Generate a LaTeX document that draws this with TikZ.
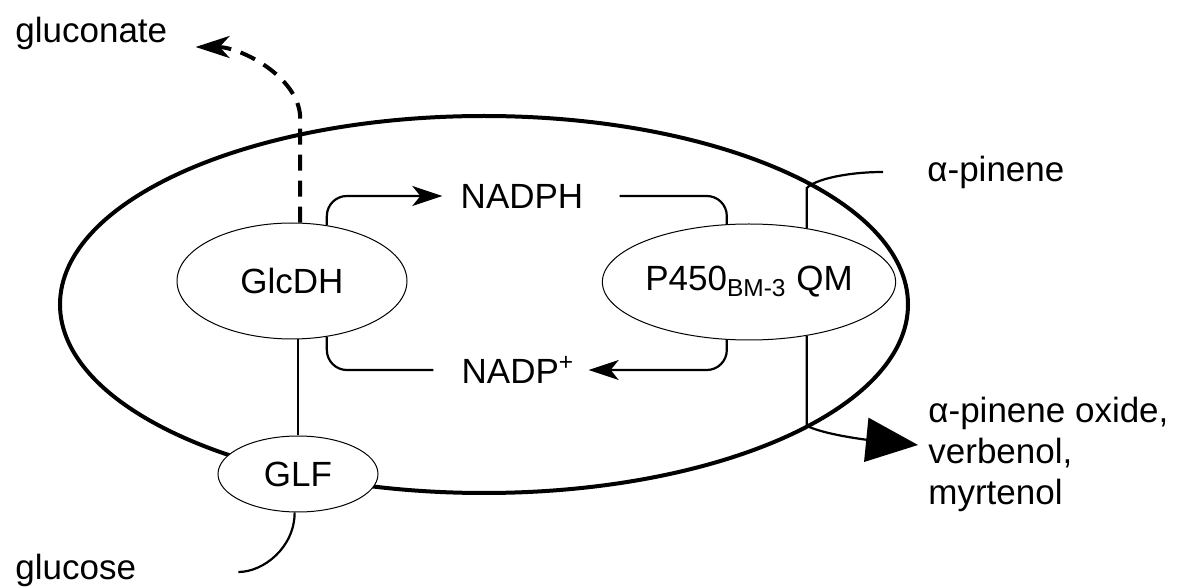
\documentclass[tikz,border=0pt]{standalone}
\usepackage{fontspec}
\setmainfont{Liberation Sans}
\usetikzlibrary{shapes.geometric,arrows.meta,calc}
\tikzset{
  enz/.style={draw,ellipse,line width=0.5pt,inner sep=0pt,fill=white},
  lbl/.style={inner sep=0pt},
  conn/.style={line width=1.1pt,rounded corners=10pt},
  cofarrow/.style={-{Stealth[length=15pt,width=10pt,inset=4pt]}},
}
\begin{document}
\begin{tikzpicture}[x=0.5pt,y=-0.5pt,font=\fontsize{17.5}{20.5}\selectfont]
	\useasboundingbox (0,0) rectangle (1191,588);

	% Клетка
	\node[draw,ellipse,line width=2pt,inner sep=0pt,minimum width=424pt,minimum height=188.5pt] (cell) at (484,304.5) {};

	% Ферменты
	\node[enz,minimum width=115pt,minimum height=58pt] (glcdh) at (292,281) {GlcDH};
	\node[enz,minimum width=129pt,minimum height=58pt] (p450) at (749,282) {P450\textsubscript{BM-3} QM};
	\node[enz,minimum width=80pt,minimum height=38pt] (glf) at (298,474) {GLF};

	% Кофакторы
	\node[lbl] (nadph) at (522,196) {NADPH};
	\node[lbl] (nadp) at (518,370) {NADP\textsuperscript{+}};

	% Вещества снаружи
	\node[lbl,anchor=west] (gluconate) at (15,33) {gluconate};
	\node[lbl,anchor=west] (glucose) at (15,570) {glucose};
	\node[lbl,anchor=west] (pinene) at (927,172) {α-pinene};
	\node[lbl,anchor=west,align=left] (products) at (928,454) {α-pinene oxide,\\verbenol,\\myrtenol};

	\coordinate (gluout) at ($(gluconate.east)+(28,14)$);
	\coordinate (glcin) at ($(glucose.east)+(102,2)$);
	\coordinate (pinin) at ($(pinene.west)+(-44,0)$);
	\coordinate (prodtip) at ($(products.west)+(-10,-9)$);

	% Цикл NADPH / NADP+
	\draw[conn,cofarrow,shorten >=9pt] (glcdh.58) |- (nadph.west);
	\draw[conn,shorten <=18pt] (nadph.east) -| (p450.111);
	\draw[conn,cofarrow,shorten >=7pt] (p450.-111) |- (nadp.east);
	\draw[conn,shorten >=14pt] (glcdh.-58) |- (nadp.west);

	% Глюконат
	\draw[line width=2pt,dash pattern=on 8pt off 5pt,-{Stealth[length=17pt,width=11pt,inset=5pt]}] (glcdh.82) -- ++(0,-106) .. controls +(-2,-40) and +(45,0) .. (gluout);

	% Глюкоза
	\draw[line width=1.1pt] (glcdh.south -| glf.north) -- (glf.north);
	\draw[line width=1.1pt] (glf.-95) .. controls +(0,35) and +(25,0) .. (glcin);

	% Пинен и продукты
	\draw[line width=1.1pt] (p450.43) -- ++(0,-40) .. controls +(8,-9) and +(-35,0) .. (pinin);
	\draw[line width=1.1pt,-{Triangle[length=26pt,width=22pt]}] (p450.-43) -- ++(0,90) .. controls +(20,10) and +(-40,-4) .. (prodtip);
\end{tikzpicture}
\end{document}
